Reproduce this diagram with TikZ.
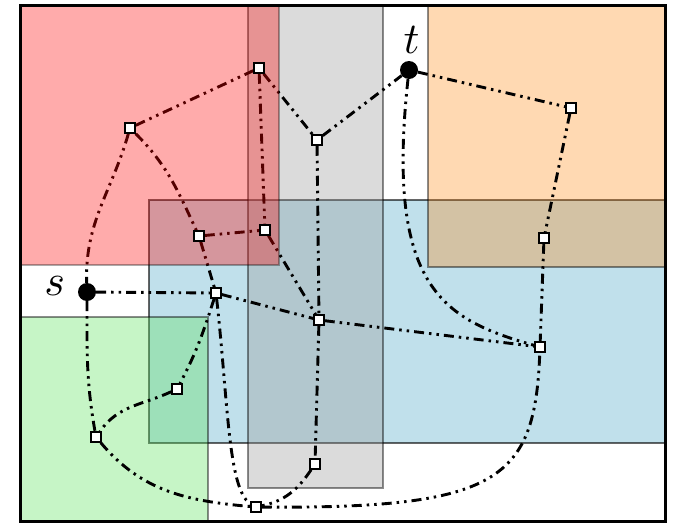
\documentclass[tikz,border=0pt]{standalone}
\usepackage{amsmath,amssymb}
\usepackage{tikz}
\usetikzlibrary{positioning}
\definecolor{regionblue}{RGB}{75,166,198}
\definecolor{regiongreen}{RGB}{92,226,92}
\pgfdeclarelayer{regions}
\pgfdeclarelayer{routes}
\pgfdeclarelayer{tint}
\pgfsetlayers{regions,routes,tint,main}

\begin{document}
\begin{tikzpicture}[
    x=1pt, y=1pt,
    region/.style={draw=black, draw opacity=0.45, line width=2pt, fill opacity=0.35},
    vertex/.style={rectangle, draw, line width=1.5pt, fill=white, minimum size=10pt, inner sep=0pt},
    terminal/.style={circle, fill=black, minimum size=18pt, inner sep=0pt},
    termlabel/.style={inner sep=0pt, scale=4.4},
    route/.style={line width=2.9pt, dash pattern=on 10pt off 5pt on 2.5pt off 5pt on 2.5pt off 5pt}
  ]
    \useasboundingbox (0,0) rectangle (674,-522);

    % Regions - under the routes
    \begin{pgfonlayer}{regions}
      \filldraw[region, fill=regionblue, draw opacity=0.6] (149,-200) rectangle (665,-443);
      \filldraw[region, fill=black!40] (248,-5) rectangle (383,-488);
      \filldraw[region, fill=orange, fill opacity=0.3] (428,-5) rectangle (665,-267);
      \filldraw[region, fill=regiongreen] (20,-317) rectangle (208,-521);
    \end{pgfonlayer}

    % Red region - over the routes
    \begin{pgfonlayer}{tint}
      \filldraw[region, fill=red, fill opacity=0.33, draw opacity=0.33] (20,-5) rectangle (279,-265);
    \end{pgfonlayer}

    % Outer frame
    \draw[line width=3pt] (20,-5) rectangle (665,-521);

    % Terminals s and t
    \node[terminal] (s) at (87,-292) {};
    \node[terminal] (t) at (409,-70) {};
    \node[termlabel, left=12pt of s, yshift=1.4pt] (slabel) {$s$};
    \node[termlabel, above=6pt of t, xshift=0.6pt] (tlabel) {$t$};

    % Vertices
    \node[vertex] (v1) at (130,-128) {};
    \node[vertex] (v2) at (259,-68) {};
    \node[vertex] (v3) at (317,-140) {};
    \node[vertex] (v4) at (571,-108) {};
    \node[vertex] (v5) at (199,-236) {};
    \node[vertex] (v6) at (265,-230) {};
    \node[vertex] (v7) at (544,-238) {};
    \node[vertex] (v8) at (216,-293) {};
    \node[vertex] (v9) at (319,-320) {};
    \node[vertex] (v10) at (540,-347) {};
    \node[vertex] (v11) at (177,-389) {};
    \node[vertex] (v12) at (96,-437) {};
    \node[vertex] (v13) at (315,-464) {};
    \node[vertex] (v14) at (256,-507) {};

    % Routes
    \begin{pgfonlayer}{routes}
      \draw[route] (v1) -- (v2);
      \draw[route] (v2) -- (v3);
      \draw[route] (v3) -- (t);
      \draw[route] (t) -- (v4);
      \draw[route] (v4) -- (v7);
      \draw[route] (v7) -- (v10);
      \draw[route] (v1) to[out=254, in=92] (s);
      \draw[route] (v1) to[out=-45, in=115] (v5);
      \draw[route] (v2) -- (v6);
      \draw[route] (v5) -- (v6);
      \draw[route] (v6) -- (v9);
      \draw[route] (v3) -- (v9);
      \draw[route] (s) -- (v8);
      \draw[route] (v8) -- (v9);
      \draw[route] (v9) -- (v10);
      \draw[route] (t) .. controls +(-24,-220) and +(-95,27) .. (v10);
      \draw[route] (v5) -- (v8);
      \draw[route] (v8) to[out=252, in=62] (v11);
      \draw[route] (v11) to[out=205, in=55] (v12);
      \draw[route] (s) to[out=270, in=100] (v12);
      \draw[route] (v12) to[out=-50, in=175] (v14);
      \draw[route] (v8) .. controls +(12,-107) and +(-28,17) .. (v14);
      \draw[route] (v9) -- (v13);
      \draw[route] (v13) to[out=236, in=12] (v14);
      \draw[route] (v14) .. controls +(244,-2) and +(-5,-133) .. (v10);
    \end{pgfonlayer}
  \end{tikzpicture}
\end{document}
